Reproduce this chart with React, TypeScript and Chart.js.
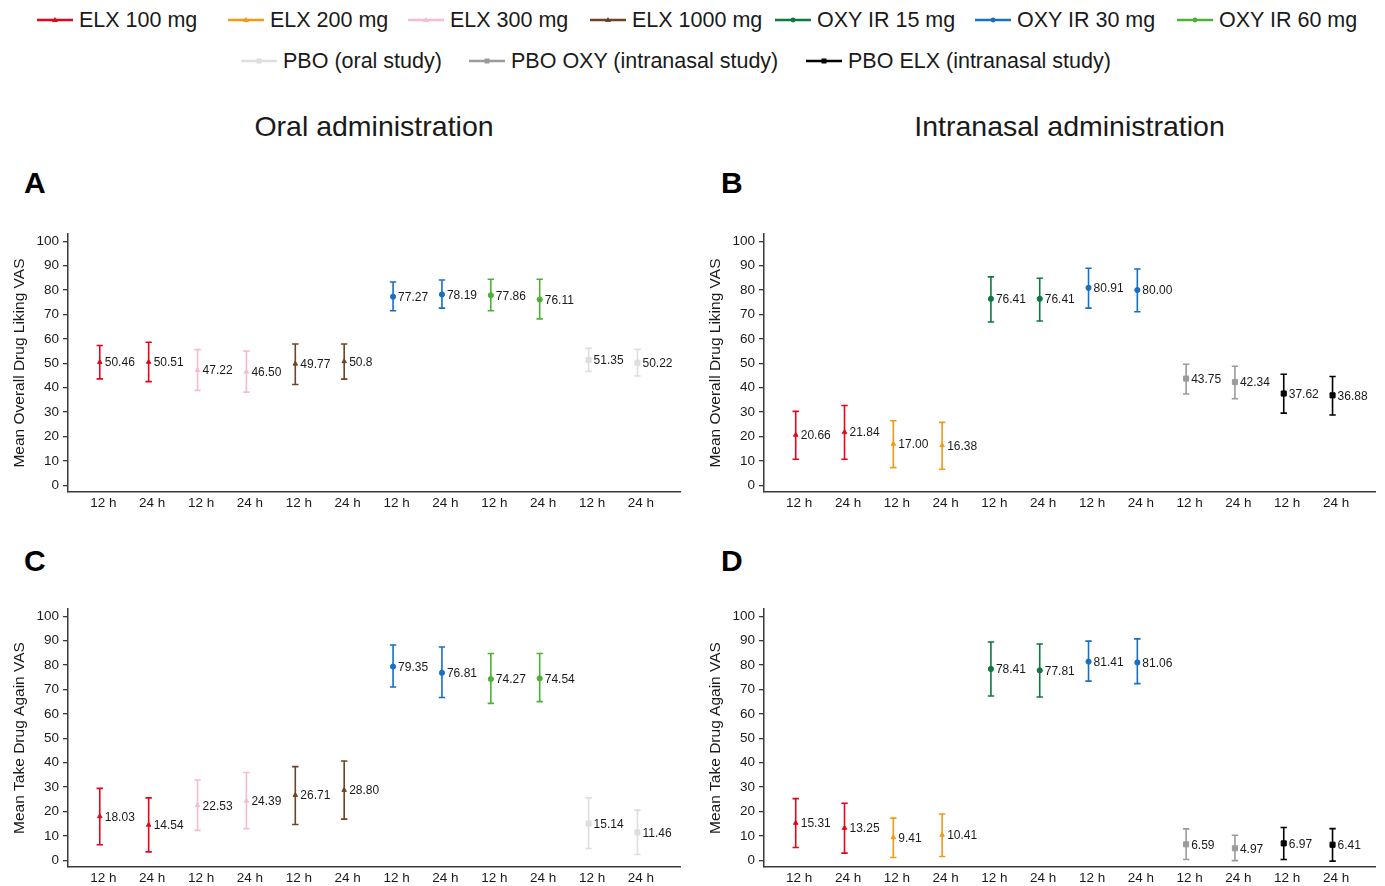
import React, { useEffect, useRef } from 'react';
import { Chart, registerables } from 'chart.js';

Chart.register(...registerables);

const FONT = '"Liberation Sans", Arial, Helvetica, sans-serif';

// ---------- data ----------
const xTickLabels = ['12 h', '24 h', '12 h', '24 h', '12 h', '24 h', '12 h', '24 h', '12 h', '24 h', '12 h', '24 h'];
const yTickValues = [0, 10, 20, 30, 40, 50, 60, 70, 80, 90, 100];

const oralGroups = ['ELX 100 mg', 'ELX 300 mg', 'ELX 1000 mg', 'OXY IR 30 mg', 'OXY IR 60 mg', 'PBO (oral study)'];
const nasalGroups = ['ELX 100 mg', 'ELX 200 mg', 'OXY IR 15 mg', 'OXY IR 30 mg', 'PBO OXY (intranasal study)', 'PBO ELX (intranasal study)'];

const legendRow1 = ['ELX 100 mg', 'ELX 200 mg', 'ELX 300 mg', 'ELX 1000 mg', 'OXY IR 15 mg', 'OXY IR 30 mg', 'OXY IR 60 mg'];
const legendRow2 = ['PBO (oral study)', 'PBO OXY (intranasal study)', 'PBO ELX (intranasal study)'];

const seriesColor: Record<string, string> = {
  'ELX 100 mg': '#e3061c',
  'ELX 200 mg': '#f39a12',
  'ELX 300 mg': '#f6bcd2',
  'ELX 1000 mg': '#6e4424',
  'OXY IR 15 mg': '#0a7a3e',
  'OXY IR 30 mg': '#1b6fbe',
  'OXY IR 60 mg': '#4cb236',
  'PBO (oral study)': '#dedede',
  'PBO OXY (intranasal study)': '#9b9b9b',
  'PBO ELX (intranasal study)': '#000000',
};
const seriesMarker: Record<string, string> = {
  'ELX 100 mg': 'triangle',
  'ELX 200 mg': 'triangle',
  'ELX 300 mg': 'triangle',
  'ELX 1000 mg': 'triangle',
  'OXY IR 15 mg': 'circle',
  'OXY IR 30 mg': 'circle',
  'OXY IR 60 mg': 'circle',
  'PBO (oral study)': 'rect',
  'PBO OXY (intranasal study)': 'rect',
  'PBO ELX (intranasal study)': 'rect',
};

// Panel A: oral, overall drug liking
const aMean = [50.46, 50.51, 47.22, 46.5, 49.77, 50.8, 77.27, 78.19, 77.86, 76.11, 51.35, 50.22];
const aLow = [43.6, 42.5, 38.9, 38.2, 41.3, 43.5, 71.5, 72.6, 71.5, 68.2, 46.7, 44.8];
const aHigh = [57.3, 58.6, 55.6, 55.0, 57.9, 57.9, 83.3, 84.1, 84.4, 84.4, 56.1, 55.7];
const aLabels = ['50.46', '50.51', '47.22', '46.50', '49.77', '50.8', '77.27', '78.19', '77.86', '76.11', '51.35', '50.22'];

// Panel B: intranasal, overall drug liking
const bMean = [20.66, 21.84, 17.0, 16.38, 76.41, 76.41, 80.91, 80.0, 43.75, 42.34, 37.62, 36.88];
const bLow = [10.7, 10.7, 7.3, 6.6, 66.9, 67.3, 72.6, 71.1, 37.4, 35.5, 29.6, 28.8];
const bHigh = [30.3, 32.7, 26.5, 25.8, 85.4, 84.8, 88.9, 88.6, 49.6, 48.8, 45.5, 44.6];
const bLabels = ['20.66', '21.84', '17.00', '16.38', '76.41', '76.41', '80.91', '80.00', '43.75', '42.34', '37.62', '36.88'];

// Panel C: oral, take drug again
const cMean = [18.03, 14.54, 22.53, 24.39, 26.71, 28.8, 79.35, 76.81, 74.27, 74.54, 15.14, 11.46];
const cLow = [6.4, 3.5, 12.3, 13.0, 14.7, 16.9, 71.0, 66.7, 64.3, 65.0, 4.9, 2.4];
const cHigh = [29.5, 25.6, 32.9, 36.0, 38.4, 40.7, 88.2, 87.4, 84.7, 84.7, 25.6, 20.6];
const cLabels = ['18.03', '14.54', '22.53', '24.39', '26.71', '28.80', '79.35', '76.81', '74.27', '74.54', '15.14', '11.46'];

// Panel D: intranasal, take drug again
const dMean = [15.31, 13.25, 9.41, 10.41, 78.41, 77.81, 81.41, 81.06, 6.59, 4.97, 6.97, 6.41];
const dLow = [5.3, 3.0, 1.2, 1.6, 67.3, 66.9, 73.4, 72.4, 0.4, -0.1, 0.4, -0.3];
const dHigh = [25.3, 23.4, 17.3, 19.0, 89.4, 88.6, 89.8, 90.7, 12.9, 10.3, 13.5, 13.0];
const dLabels = ['15.31', '13.25', '9.41', '10.41', '78.41', '77.81', '81.41', '81.06', '6.59', '4.97', '6.97', '6.41'];

// ---------- layout ----------
const AXIS_COLOR = '#3a3a3a';
const TEXT_COLOR = '#1a1a1a';

type PanelProps = {
  left: number;
  top: number;
  width: number;
  padRight: number;
  groups: string[];
  means: number[];
  lows: number[];
  highs: number[];
  labels: string[];
  yTitle: string;
};

function markerRadius(style: string) {
  if (style === 'rect') return 3.6;
  if (style === 'triangle') return 2.6;
  return 2.6;
}

function Panel(props: PanelProps) {
  const ref = useRef<HTMLCanvasElement>(null);
  useEffect(() => {
    const { groups, means, lows, highs, labels, yTitle, padRight } = props;
    const datasets = groups.map((g, gi) => {
      const idx = [gi * 2, gi * 2 + 1];
      const c = seriesColor[g];
      const ms = seriesMarker[g];
      return {
        label: g,
        data: idx.map((i) => ({ x: i, y: means[i] })),
        errLow: idx.map((i) => lows[i]),
        errHigh: idx.map((i) => highs[i]),
        valueLabels: idx.map((i) => labels[i]),
        pointStyle: ms,
        pointRadius: markerRadius(ms),
        backgroundColor: c,
        borderColor: c,
        borderWidth: 1,
        showLine: false,
      } as any;
    });

    const errorBars = {
      id: 'errorBars',
      beforeDatasetsDraw(chart: any) {
        const ctx = chart.ctx;
        const ys = chart.scales.y;
        chart.data.datasets.forEach((ds: any, di: number) => {
          const meta = chart.getDatasetMeta(di);
          meta.data.forEach((pt: any, j: number) => {
            const yl = ys.getPixelForValue(ds.errLow[j]);
            const yh = ys.getPixelForValue(ds.errHigh[j]);
            ctx.save();
            ctx.strokeStyle = ds.borderColor;
            ctx.lineWidth = 1.6;
            ctx.beginPath();
            ctx.moveTo(pt.x, yl);
            ctx.lineTo(pt.x, yh);
            ctx.moveTo(pt.x - 3.2, yl);
            ctx.lineTo(pt.x + 3.2, yl);
            ctx.moveTo(pt.x - 3.2, yh);
            ctx.lineTo(pt.x + 3.2, yh);
            ctx.stroke();
            ctx.restore();
          });
        });
      },
      afterDatasetsDraw(chart: any) {
        const ctx = chart.ctx;
        chart.data.datasets.forEach((ds: any, di: number) => {
          const meta = chart.getDatasetMeta(di);
          meta.data.forEach((pt: any, j: number) => {
            ctx.save();
            ctx.font = `12px ${FONT}`;
            ctx.fillStyle = TEXT_COLOR;
            ctx.textAlign = 'left';
            ctx.textBaseline = 'middle';
            ctx.fillText(ds.valueLabels[j], pt.x + 5, pt.y + 1);
            ctx.restore();
          });
        });
      },
    };

    const chart = new Chart(ref.current as HTMLCanvasElement, {
      type: 'scatter',
      data: { datasets },
      plugins: [errorBars],
      options: {
        animation: false,
        responsive: true,
        maintainAspectRatio: false,
        events: [],
        layout: { padding: { left: 0, right: padRight, top: 10, bottom: 0 } },
        plugins: {
          legend: { display: false },
          tooltip: { enabled: false },
        },
        scales: {
          x: {
            type: 'linear',
            min: -0.65,
            max: 11.87,
            afterBuildTicks: (scale: any) => {
              scale.ticks = xTickLabels.map((_, i) => ({ value: i }));
            },
            afterFit: (scale: any) => {
              scale.height = 25;
            },
            grid: { display: false, drawTicks: false, drawOnChartArea: false },
            border: { display: true, color: AXIS_COLOR, width: 1.5 },
            ticks: {
              autoSkip: false,
              maxRotation: 0,
              padding: 3,
              labelOffset: 3.5,
              color: TEXT_COLOR,
              font: { family: FONT, size: 13.5 },
              callback: (v: any) => xTickLabels[Math.round(Number(v))] ?? '',
            },
          },
          y: {
            type: 'linear',
            min: -2.7,
            max: 102.9,
            afterBuildTicks: (scale: any) => {
              scale.ticks = yTickValues.map((v) => ({ value: v }));
            },
            afterFit: (scale: any) => {
              scale.width = 68;
            },
            grid: {
              display: true,
              drawOnChartArea: false,
              drawTicks: true,
              tickLength: 5,
              color: AXIS_COLOR,
              lineWidth: 1.3,
            },
            border: { display: true, color: AXIS_COLOR, width: 1.5 },
            ticks: {
              padding: 4,
              color: TEXT_COLOR,
              font: { family: FONT, size: 13.5 },
              callback: (v: any) => String(v),
            },
            title: {
              display: true,
              text: yTitle,
              color: TEXT_COLOR,
              font: { family: FONT, size: 15.5 },
              padding: { top: 10, bottom: 0 },
            },
          },
        },
      } as any,
    });
    return () => chart.destroy();
  }, []);

  return (
    <div style={{ position: 'absolute', left: props.left, top: props.top, width: props.width, height: 295 }}>
      <canvas ref={ref} />
    </div>
  );
}

function LegendMarker({ name }: { name: string }) {
  const c = seriesColor[name];
  const m = seriesMarker[name];
  let marker: React.ReactNode = null;
  if (m === 'circle') marker = <circle cx={18} cy={7} r={2.4} fill={c} />;
  else if (m === 'rect') marker = <rect x={15.5} y={4.5} width={5} height={5} fill={c} />;
  else marker = <polygon points="18,4 21,9 15,9" fill={c} />;
  return (
    <svg width={36} height={14} style={{ display: 'block' }}>
      <line x1={0} y1={7} x2={36} y2={7} stroke={c} strokeWidth={2.6} />
      {marker}
    </svg>
  );
}

const legendRow1Left = [37, 228, 408, 590, 775, 975, 1177];
const legendRow2Left = [241, 469, 806];

function LegendItem({ name, left, cy }: { name: string; left: number; cy: number }) {
  return (
    <div
      style={{
        position: 'absolute',
        left,
        top: cy - 14,
        height: 28,
        display: 'flex',
        alignItems: 'center',
        whiteSpace: 'nowrap',
      }}
    >
      <LegendMarker name={name} />
      <span style={{ marginLeft: 6, fontSize: 21.5, color: TEXT_COLOR, lineHeight: '28px' }}>{name}</span>
    </div>
  );
}

export default function App() {
  return (
    <div
      style={{
        position: 'absolute',
        left: 0,
        top: 0,
        width: 1385,
        height: 886,
        background: '#ffffff',
        fontFamily: FONT,
        overflow: 'hidden',
      }}
    >
      {legendRow1.map((n, i) => (
        <LegendItem key={n} name={n} left={legendRow1Left[i]} cy={20} />
      ))}
      {legendRow2.map((n, i) => (
        <LegendItem key={n} name={n} left={legendRow2Left[i]} cy={61} />
      ))}

      <div style={{ position: 'absolute', left: 68, width: 612, top: 108, textAlign: 'center', fontSize: 28.5, color: TEXT_COLOR, lineHeight: '36px' }}>
        Oral administration
      </div>
      <div style={{ position: 'absolute', left: 764, width: 611, top: 108, textAlign: 'center', fontSize: 28.5, color: TEXT_COLOR, lineHeight: '36px' }}>
        Intranasal administration
      </div>

      {[
        { t: 'A', l: 24, y: 165 },
        { t: 'B', l: 721, y: 165 },
        { t: 'C', l: 24, y: 543 },
        { t: 'D', l: 721, y: 543 },
      ].map((p) => (
        <div key={p.t} style={{ position: 'absolute', left: p.l, top: p.y, fontSize: 30, fontWeight: 'bold', color: '#000', lineHeight: '36px' }}>
          {p.t}
        </div>
      ))}

      <Panel left={0} top={222} width={692} padRight={12} groups={oralGroups} means={aMean} lows={aLow} highs={aHigh} labels={aLabels} yTitle="Mean Overall Drug Liking VAS" />
      <Panel left={696} top={222} width={689} padRight={10} groups={nasalGroups} means={bMean} lows={bLow} highs={bHigh} labels={bLabels} yTitle="Mean Overall Drug Liking VAS" />
      <Panel left={0} top={597} width={692} padRight={12} groups={oralGroups} means={cMean} lows={cLow} highs={cHigh} labels={cLabels} yTitle="Mean Take Drug Again VAS" />
      <Panel left={696} top={597} width={689} padRight={10} groups={nasalGroups} means={dMean} lows={dLow} highs={dHigh} labels={dLabels} yTitle="Mean Take Drug Again VAS" />
    </div>
  );
}
